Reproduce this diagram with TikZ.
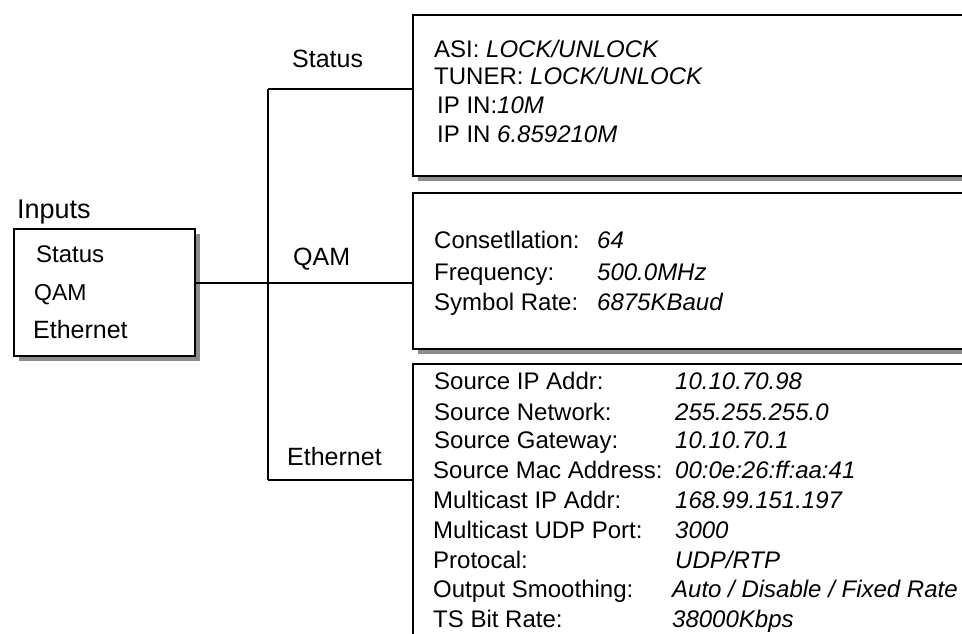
\documentclass[tikz,border=0pt]{standalone}
\usepackage{fontspec}
\setmainfont{Liberation Sans}
\usetikzlibrary{shadows}
\begin{document}
\begin{tikzpicture}[x=1pt,y=-1pt,
  box/.style={draw=black, line width=1.6pt, fill=white, anchor=north west, inner sep=0pt,
    drop shadow={shadow xshift=5pt, shadow yshift=-5pt, fill=black!45, opacity=1}},
  conn/.style={draw=black, line width=1.3pt},
  txt/.style={anchor=base west, inner sep=0pt, font=\fontsize{24}{28}\selectfont},
  big/.style={txt, font=\fontsize{25}{29}\selectfont},
  val/.style={txt, font=\fontsize{24}{28}\selectfont\itshape}]
\clip (0,0) rectangle (962,633);
\fill[white] (0,0) rectangle (962,633);
% boxes
\node[box, minimum width=181, minimum height=127] (inputs) at (13,228) {};
\node[box, minimum width=600, minimum height=161] (status) at (412,14) {};
\node[box, minimum width=600, minimum height=156] (qam) at (412,192) {};
\node[box, minimum width=600, minimum height=300] (eth) at (412,363) {};
% junctions
\coordinate (jtop) at (268,89);
\coordinate (jmid) at (268,283);
\coordinate (jbot) at (268,480);
\draw[conn] (jtop) -- (jbot);
\draw[conn] (jtop) -- (status.west |- jtop);
\draw[conn] (inputs.east |- jmid) -- (jmid) -- (qam.west |- jmid);
\draw[conn] (jbot) -- (eth.west |- jbot);
% labels
\node[txt, font=\fontsize{27}{30}\selectfont] (lin) at (17,218) {Inputs};
\node[txt] (i1) at (36,262) {Status};
\node[txt, font=\fontsize{23}{27}\selectfont] (i2) at (34,300) {QAM};
\node[big] (i3) at (33,338) {Ethernet};
\node[big] (ls) at (292,67) {Status};
\node[big] (lq) at (293,265) {QAM};
\node[big] (le) at (287,465) {Ethernet};
% status box
\node[txt] (s1) at (434,57) {ASI: \textit{LOCK/UNLOCK}};
\node[txt] (s2) at (434,84) {TUNER: \textit{LOCK/UNLOCK}};
\node[txt] (s3) at (437,113) {IP IN:\textit{10M}};
\node[txt] (s4) at (437,142) {IP IN \textit{6.859210M}};
% qam box
\node[txt] (q1) at (434,248) {Consetllation:};
\node[txt] (q2) at (434,280) {Frequency:};
\node[txt] (q3) at (434,310) {Symbol Rate:};
\node[val] (qv1) at (597,248) {64};
\node[val] (qv2) at (597,280) {500.0MHz};
\node[val] (qv3) at (597,310) {6875KBaud};
% ethernet box
\node[txt] (e1) at (434,389) {Source IP Addr:};
\node[txt] (e2) at (434,420) {Source Network:};
\node[txt] (e3) at (434,448) {Source Gateway:};
\node[txt] (e4) at (433,478) {Source Mac Address:};
\node[txt] (e5) at (433,508) {Multicast IP Addr:};
\node[txt] (e6) at (433,538) {Multicast UDP Port:};
\node[txt] (e7) at (433,568) {Protocal:};
\node[txt] (e8) at (433,597) {Output Smoothing:};
\node[txt] (e9) at (433,627) {TS Bit Rate:};
\node[val] (ev1) at (675,389) {10.10.70.98};
\node[val] (ev2) at (675,420) {255.255.255.0};
\node[val] (ev3) at (675,448) {10.10.70.1};
\node[val] (ev4) at (675,478) {00:0e:26:ff:aa:41};
\node[val] (ev5) at (675,508) {168.99.151.197};
\node[val] (ev6) at (675,538) {3000};
\node[val] (ev7) at (675,568) {UDP/RTP};
\node[val] (ev8) at (672,597) {Auto / Disable / Fixed Rate};
\node[val] (ev9) at (672,627) {38000Kbps};
\end{tikzpicture}
\end{document}
